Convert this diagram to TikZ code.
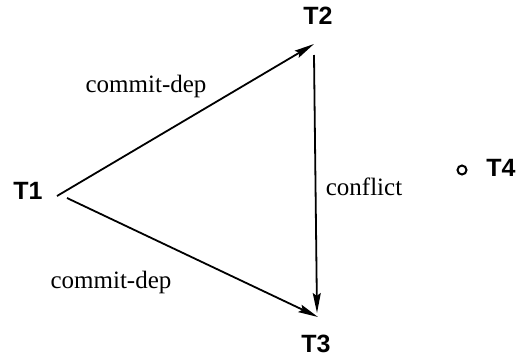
\documentclass[tikz,border=0pt]{standalone}
\usepackage{fontspec}
\setmainfont{Liberation Serif}
\newfontfamily\txnfont{Liberation Sans}
\usetikzlibrary{arrows.meta}

\begin{document}
\begin{tikzpicture}[x=1pt, y=-1pt,
  txn/.style={font=\txnfont\bfseries\fontsize{25}{25}\selectfont, inner sep=0pt},
  dep/.style={font=\fontsize{25}{25}\selectfont, inner sep=0pt, anchor=base},
  arrow/.style={-{Stealth[length=20pt, width=8pt, inset=3pt]}, line width=1.8pt},
  dot/.style={circle, draw, line width=2pt, minimum size=9pt, inner sep=0pt},
]
\useasboundingbox (0,0) rectangle (522,360);

\node[txn] (T1) at (28,191)  {T1};
\node[txn] (T2) at (318,16)  {T2};
\node[txn] (T3) at (316,344) {T3};
\node[txn] (T4) at (501,168) {T4};
\node[dot] (T4dot) at (462,170) {};

\draw[arrow] ([shift={(29,5)}]T1.center)  -- ([shift={(-4,28)}]T2.center);
\draw[arrow] ([shift={(39,7)}]T1.center)  -- ([shift={(2,-27)}]T3.center);
\draw[arrow] ([shift={(-4,39)}]T2.center) -- ([shift={(1,-31)}]T3.center);

\node[dep] (dep12)  at (146,92)  {commit-dep};
\node[dep] (dep13)  at (111,288) {commit-dep};
\node[dep] (conf23) at (364,195) {conflict};
\end{tikzpicture}
\end{document}
